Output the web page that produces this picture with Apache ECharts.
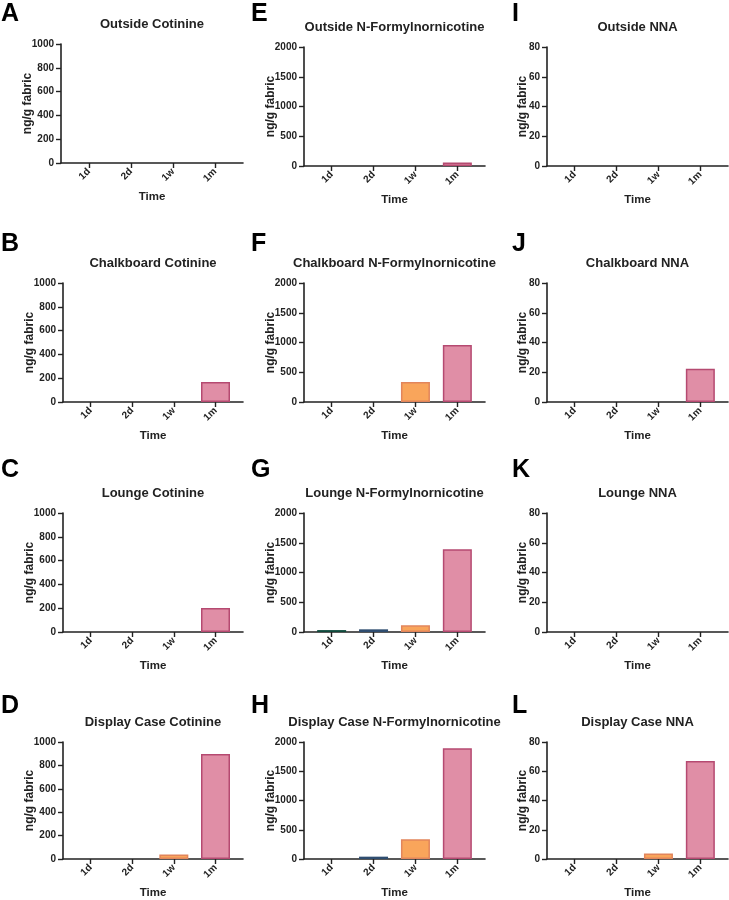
<!DOCTYPE html>
<html>
<head>
<meta charset="utf-8">
<script src="https://cdn.jsdelivr.net/npm/echarts@6/dist/echarts.min.js"></script>
<style>html,body{margin:0;padding:0;background:#fff}#c{width:729px;height:900px}</style>
</head>
<body>
<div id="c"></div>
<script>
// ---------- data ----------
const timePoints = ['1d', '2d', '1w', '1m'];

const outsideCotinine      = [0, 0, 0, 0];
const chalkboardCotinine   = [0, 0, 0, 168];
const loungeCotinine       = [0, 0, 0, 202];
const displayCotinine      = [0, 0, 38, 898];

const outsideNFN           = [0, 0, 0, 58];
const chalkboardNFN        = [0, 0, 335, 960];
const loungeNFN            = [32, 45, 112, 1390];
const displayNFN           = [0, 40, 338, 1895];

const outsideNNA           = [0, 0, 0, 0];
const chalkboardNNA        = [0, 0, 0, 22.3];
const loungeNNA            = [0, 0, 0, 0];
const displayNNA           = [0, 0, 3.8, 67];

const cotinineTicks = [0, 200, 400, 600, 800, 1000];
const nfnTicks      = [0, 500, 1000, 1500, 2000];
const nnaTicks      = [0, 20, 40, 60, 80];

const panelTitles = [
  ['Outside Cotinine', 'Chalkboard Cotinine', 'Lounge Cotinine', 'Display Case Cotinine'],
  ['Outside N-Formylnornicotine', 'Chalkboard N-Formylnornicotine', 'Lounge N-Formylnornicotine', 'Display Case N-Formylnornicotine'],
  ['Outside NNA', 'Chalkboard NNA', 'Lounge NNA', 'Display Case NNA']
];
const panelLetters = [['A','B','C','D'], ['E','F','G','H'], ['I','J','K','L']];
const panelValues = [
  [outsideCotinine, chalkboardCotinine, loungeCotinine, displayCotinine],
  [outsideNFN, chalkboardNFN, loungeNFN, displayNFN],
  [outsideNNA, chalkboardNNA, loungeNNA, displayNNA]
];
const columnTicks = [cotinineTicks, nfnTicks, nnaTicks];

// ---------- styles / layout ----------
const FONT = '"Liberation Sans", Arial, Helvetica, sans-serif';
const TEXT = '#222';
const fills   = ['#17594a', '#3b5c82', '#f9a55b', '#e08ea6'];
const borders = ['#0f4a3c', '#2f4d70', '#e2855b', '#b54a71'];

const colLeft  = [63, 304, 547];
const colRight = [243, 485, 728];
const rowTop   = [47, 283, 513, 742];
const plotH    = 119;
const letterX  = [1, 251, 512];
const nameGapY = [27, 27, 18];

const grids = [], xAxes = [], yAxes = [], series = [], graphics = [];
let idx = 0;
for (let c = 0; c < 3; c++) {
  for (let r = 0; r < 4; r++) {
    let left = colLeft[c], top = rowTop[r];
    if (c === 0 && r === 0) { left = 61; top = 44; }
    const right = colRight[c];
    const ticks = columnTicks[c];
    grids.push({ left: left, top: top, width: right - left, height: plotH, containLabel: false });
    xAxes.push({
      gridIndex: idx, type: 'value', min: -0.66, max: 3.66,
      splitLine: { show: false },
      axisLine: { show: true, onZero: false, lineStyle: { color: TEXT, width: 1.6 } },
      axisTick: { show: true, length: 5, lineStyle: { color: TEXT, width: 1.4 }, customValues: [0, 1, 2, 3] },
      axisLabel: {
        show: true, customValues: [0, 1, 2, 3], rotate: 45, margin: 7,
        fontFamily: FONT, fontWeight: 'bold', fontSize: 10, color: TEXT,
        formatter: v => timePoints[Math.round(v)]
      },
      name: 'Time', nameLocation: 'middle', nameGap: 28, nameMoveOverlap: false,
      nameTextStyle: { fontFamily: FONT, fontWeight: 'bold', fontSize: 11.5, color: TEXT }
    });
    yAxes.push({
      gridIndex: idx, type: 'value', min: ticks[0], max: ticks[ticks.length - 1],
      interval: ticks[1] - ticks[0],
      splitLine: { show: false },
      axisLine: { show: true, onZero: false, lineStyle: { color: TEXT, width: 1.6 } },
      axisTick: { show: true, length: 5, lineStyle: { color: TEXT, width: 1.4 } },
      axisLabel: { margin: 7, fontFamily: FONT, fontWeight: 'bold', fontSize: 10, color: TEXT,
                   formatter: v => String(v) },
      name: 'ng/g fabric', nameLocation: 'middle', nameGap: nameGapY[c], nameMoveOverlap: false,
      nameTextStyle: { fontFamily: FONT, fontWeight: 'bold', fontSize: 12, color: TEXT }
    });
    const vals = panelValues[c][r];
    series.push({
      type: 'bar', xAxisIndex: idx, yAxisIndex: idx, barWidth: 29,
      silent: true, animation: false,
      data: vals.map((v, i) => ({
        value: [i, v],
        itemStyle: { color: fills[i], borderColor: borders[i], borderWidth: v > 0 ? 1.5 : 0 }
      }))
    });
    // panel title
    graphics.push({
      type: 'text', x: (left + right) / 2, y: top - 20,
      style: { text: panelTitles[c][r], textAlign: 'center', textVerticalAlign: 'middle',
               font: 'bold 13px ' + FONT, fill: TEXT }
    });
    // panel letter
    const ly = [14, 244, 470, 706][r];
    graphics.push({
      type: 'text', x: letterX[c], y: ly,
      style: { text: panelLetters[c][r], textAlign: 'left', textVerticalAlign: 'middle',
               font: 'bold 25px ' + FONT, fill: '#000' }
    });
    idx++;
  }
}

const chart = echarts.init(document.getElementById('c'), null, { renderer: 'canvas' });
chart.setOption({
  animation: false,
  backgroundColor: '#fff',
  grid: grids, xAxis: xAxes, yAxis: yAxes, series: series,
  graphic: graphics
});
</script>
</body>
</html>
